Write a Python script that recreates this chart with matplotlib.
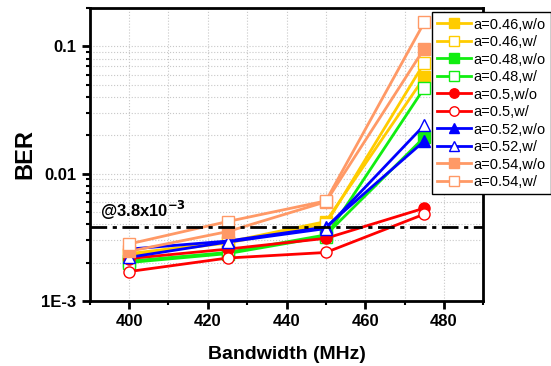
"""BER versus bandwidth for several roll-off values, with and without the scheme."""

import numpy as np
import matplotlib
matplotlib.use("Agg")
from matplotlib import pyplot as plt
from matplotlib.ticker import FixedLocator, FuncFormatter, MultipleLocator

plt.rcParams['font.family'] = ['Liberation Sans', 'DejaVu Sans']

# Data.
bandwidth = [400, 425, 450, 475]
ber_046_wo = [2.35e-3, 2.90e-3, 4.20e-3, 0.057]
ber_046_w = [2.30e-3, 2.85e-3, 4.00e-3, 0.074]
ber_048_wo = [2.05e-3, 2.40e-3, 3.30e-3, 0.0193]
ber_048_w = [2.00e-3, 2.35e-3, 3.20e-3, 0.047]
ber_050_wo = [2.15e-3, 2.55e-3, 3.10e-3, 5.35e-3]
ber_050_w = [1.70e-3, 2.17e-3, 2.40e-3, 4.80e-3]
ber_052_wo = [2.55e-3, 2.95e-3, 3.80e-3, 0.018]
ber_052_w = [2.20e-3, 2.90e-3, 3.70e-3, 0.024]
ber_054_wo = [2.45e-3, 3.50e-3, 6.00e-3, 0.096]
ber_054_w = [2.80e-3, 4.20e-3, 6.10e-3, 0.154]
threshold = 3.8e-3

series = [
    ("a=0.46,w/o", ber_046_wo, "#FFCC00", "s", True),
    ("a=0.46,w/", ber_046_w, "#FFCC00", "s", False),
    ("a=0.48,w/o", ber_048_wo, "#11EE11", "s", True),
    ("a=0.48,w/", ber_048_w, "#11EE11", "s", False),
    ("a=0.5,w/o", ber_050_wo, "#FF0000", "o", True),
    ("a=0.5,w/", ber_050_w, "#FF0000", "o", False),
    ("a=0.52,w/o", ber_052_wo, "#0000FF", "^", True),
    ("a=0.52,w/", ber_052_w, "#0000FF", "^", False),
    ("a=0.54,w/o", ber_054_wo, "#FF9966", "s", True),
    ("a=0.54,w/", ber_054_w, "#FF9966", "s", False),
]

fig = plt.figure(figsize=(5.51, 3.66), dpi=100)
ax = fig.add_axes([0.163, 0.178, 0.714, 0.80])

for label, values, color, marker, filled in series:
    ax.plot(bandwidth, values, color=color, marker=marker, markersize=8, linewidth=2,
            markerfacecolor=color if filled else "white", markeredgecolor=color,
            markeredgewidth=1, label=label)

ax.axhline(threshold, color="black", linestyle=(0, (6, 2, 1.5, 2)), linewidth=2)
ax.text(392.5, 4.6e-3, r"@3.8x10$^{\mathbf{-3}}$", fontsize=12, fontweight="bold")

ax.set_yscale("log")
ax.set_xlim(390, 490)
ax.set_ylim(1e-3, 0.2)

ax.xaxis.set_major_locator(MultipleLocator(20))
ax.xaxis.set_minor_locator(MultipleLocator(10))
ax.yaxis.set_major_locator(FixedLocator([1e-3, 1e-2, 1e-1]))
ax.yaxis.set_major_formatter(FuncFormatter(
    lambda v, pos: {1e-3: "1E-3", 1e-2: "0.01", 1e-1: "0.1"}.get(v, "")))

ax.grid(True, which="both", color="#c8c8c8", linestyle=":", linewidth=0.8)
ax.set_axisbelow(True)

for spine in ax.spines.values():
    spine.set_linewidth(2)
ax.tick_params(which="major", direction="out", length=6, width=2, labelsize=12)
ax.tick_params(which="minor", direction="out", length=3, width=1.5)
for tick in ax.get_xticklabels() + ax.get_yticklabels():
    tick.set_fontweight("bold")

ax.set_xlabel("Bandwidth (MHz)", fontsize=14, fontweight="bold", labelpad=12)
ax.set_ylabel("BER", fontsize=17, fontweight="bold", labelpad=4)

fig.legend(loc="upper left", bbox_to_anchor=(0.784, 0.966), fontsize=10.5,
           frameon=True, fancybox=False, edgecolor="black", framealpha=1,
           handlelength=2.3, labelspacing=0.24, borderpad=0.35, handletextpad=0.2,
           markerscale=0.85, borderaxespad=0)

fig.savefig("out.png", dpi=100)
